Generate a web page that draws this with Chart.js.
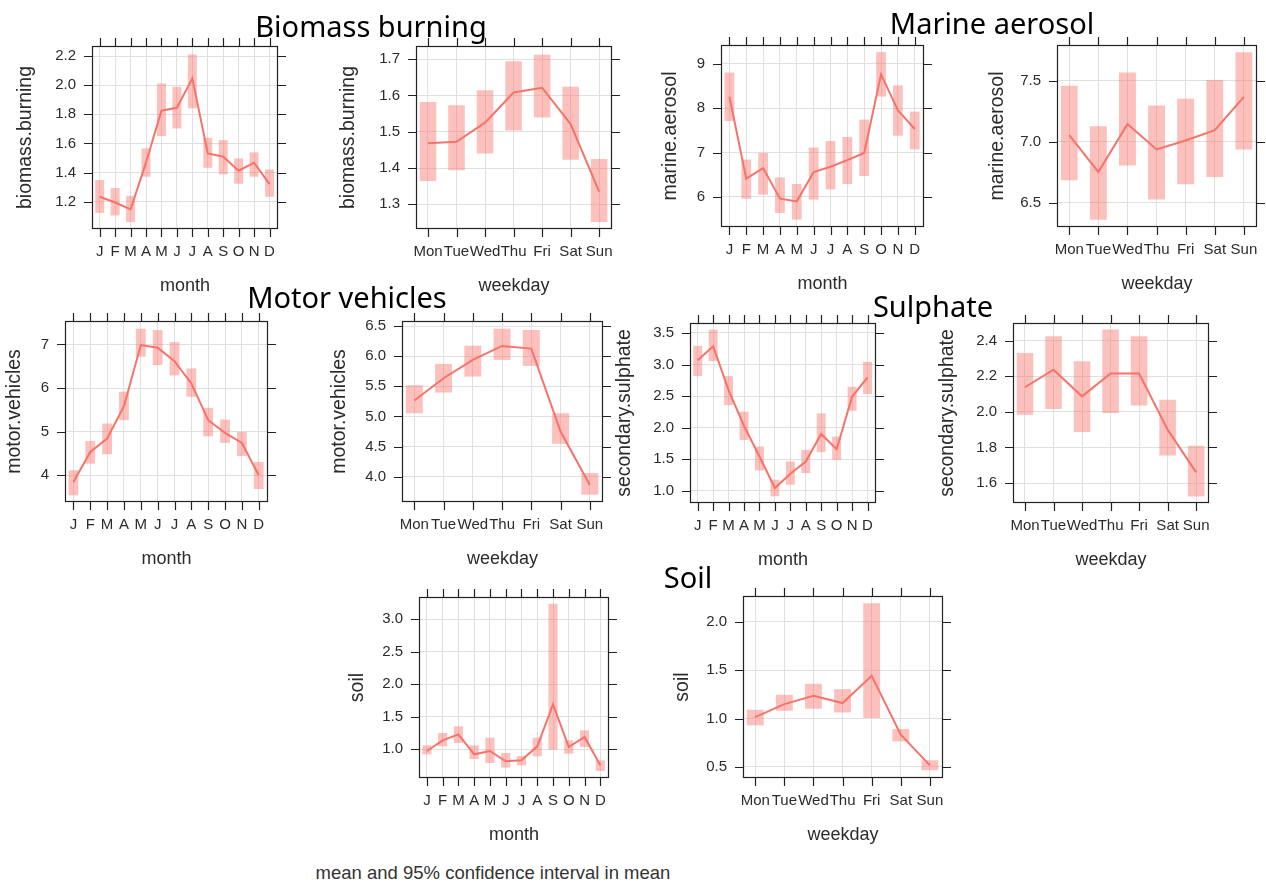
<!DOCTYPE html>
<html>
<head>
<meta charset="utf-8">
<script src="https://cdn.jsdelivr.net/npm/chart.js@4.4.0/dist/chart.umd.min.js"></script>
<style>
html, body { margin: 0; padding: 0; overflow: hidden; background: #fff; }
body { width: 1266px; height: 883px; position: relative; font-family: "Liberation Sans", Arial, sans-serif; }
canvas { position: absolute; }
.ttl { position: absolute; font-family: "Noto Sans", sans-serif; font-size: 29px; line-height: 29px; color: #000; white-space: nowrap; transform: translateX(-50%); z-index: 5; }
.note { position: absolute; font-size: 18.5px; line-height: 18px; color: #333; white-space: nowrap; transform: translateX(-50%); z-index: 5; }
</style>
</head>
<body>
<div class="ttl" style="left:371px;top:11px">Biomass burning</div>
<div class="ttl" style="left:992px;top:8px">Marine aerosol</div>
<div class="ttl" style="left:347px;top:282px">Motor vehicles</div>
<div class="ttl" style="left:933px;top:291px">Sulphate</div>
<div class="ttl" style="left:688px;top:562px">Soil</div>
<div class="note" style="left:493px;top:864px">mean and 95% confidence interval in mean</div>

<script>
var months = ['J', 'F', 'M', 'A', 'M', 'J', 'J', 'A', 'S', 'O', 'N', 'D'];
var weekdays = ['Mon', 'Tue', 'Wed', 'Thu', 'Fri', 'Sat', 'Sun'];

// biomass burning
var bbMonthMean = [1.234, 1.195, 1.147, 1.47, 1.825, 1.845, 2.047, 1.532, 1.509, 1.413, 1.468, 1.321];
var bbMonthLow = [1.124, 1.106, 1.06, 1.372, 1.651, 1.703, 1.841, 1.433, 1.388, 1.324, 1.372, 1.234];
var bbMonthHigh = [1.349, 1.294, 1.241, 1.566, 2.012, 1.989, 2.211, 1.639, 1.623, 1.497, 1.539, 1.422];
var bbMonthTicks = ['1.2', '1.4', '1.6', '1.8', '2.0', '2.2'];

var bbWeekMean = [1.468, 1.472, 1.525, 1.608, 1.621, 1.521, 1.335];
var bbWeekLow = [1.364, 1.394, 1.44, 1.503, 1.539, 1.423, 1.251];
var bbWeekHigh = [1.582, 1.573, 1.614, 1.694, 1.712, 1.624, 1.425];
var bbWeekTicks = ['1.3', '1.4', '1.5', '1.6', '1.7'];

// marine aerosol
var maMonthMean = [8.256, 6.41, 6.65, 5.96, 5.9, 6.56, 6.68, 6.83, 6.99, 8.76, 7.95, 7.53];
var maMonthLow = [7.71, 5.96, 6.05, 5.64, 5.49, 5.94, 6.17, 6.29, 6.47, 8.26, 7.38, 7.07];
var maMonthHigh = [8.8, 6.84, 6.99, 6.44, 6.29, 7.11, 7.26, 7.35, 7.74, 9.26, 8.51, 7.92];
var maMonthTicks = ['6', '7', '8', '9'];

var maWeekMean = [7.053, 6.752, 7.144, 6.936, 7.01, 7.095, 7.368];
var maWeekLow = [6.684, 6.36, 6.804, 6.525, 6.651, 6.711, 6.936];
var maWeekHigh = [7.459, 7.127, 7.568, 7.297, 7.352, 7.505, 7.733];
var maWeekTicks = ['6.5', '7.0', '7.5'];

// motor vehicles
var mvMonthMean = [3.847, 4.536, 4.842, 5.584, 6.985, 6.923, 6.617, 6.105, 5.263, 4.972, 4.742, 4.0];
var mvMonthLow = [3.541, 4.268, 4.482, 5.263, 6.717, 6.526, 6.288, 5.798, 4.895, 4.742, 4.444, 3.686];
var mvMonthHigh = [4.115, 4.788, 5.186, 5.913, 7.36, 7.329, 7.054, 6.449, 5.546, 5.278, 4.995, 4.306];
var mvMonthTicks = ['4', '5', '6', '7'];

var mvWeekMean = [5.264, 5.634, 5.937, 6.169, 6.125, 4.75, 3.862];
var mvWeekLow = [5.054, 5.396, 5.661, 5.937, 5.838, 4.546, 3.702];
var mvWeekHigh = [5.518, 5.871, 6.174, 6.456, 6.434, 5.054, 4.061];
var mvWeekTicks = ['4.0', '4.5', '5.0', '5.5', '6.0', '6.5'];

// secondary sulphate
var ssMonthMean = [3.068, 3.289, 2.595, 2.026, 1.542, 1.042, 1.268, 1.463, 1.9, 1.658, 2.489, 2.795];
var ssMonthLow = [2.816, 3.053, 2.358, 1.805, 1.321, 0.911, 1.095, 1.279, 1.611, 1.489, 2.268, 2.532];
var ssMonthHigh = [3.295, 3.553, 2.816, 2.253, 1.7, 1.174, 1.463, 1.647, 2.226, 1.858, 2.647, 3.042];
var ssMonthTicks = ['1.0', '1.5', '2.0', '2.5', '3.0', '3.5'];

var ssWeekMean = [2.138, 2.237, 2.087, 2.215, 2.215, 1.9, 1.66];
var ssWeekLow = [1.984, 2.016, 1.887, 1.993, 2.035, 1.755, 1.525];
var ssWeekHigh = [2.331, 2.424, 2.284, 2.462, 2.424, 2.068, 1.81];
var ssWeekTicks = ['1.6', '1.8', '2.0', '2.2', '2.4'];

// soil
var soilMonthMean = [0.974, 1.138, 1.23, 0.923, 0.974, 0.816, 0.831, 1.046, 1.69, 1.036, 1.189, 0.754];
var soilMonthLow = [0.923, 1.046, 1.097, 0.852, 0.79, 0.719, 0.754, 0.893, 0.995, 0.933, 1.036, 0.667];
var soilMonthHigh = [1.061, 1.251, 1.353, 1.061, 1.179, 0.944, 0.898, 1.179, 3.235, 1.138, 1.292, 0.831];
var soilMonthTicks = ['1.0', '1.5', '2.0', '2.5', '3.0'];

var soilWeekMean = [1.016, 1.15, 1.236, 1.161, 1.443, 0.834, 0.517];
var soilWeekLow = [0.93, 1.081, 1.102, 1.064, 1.006, 0.765, 0.466];
var soilWeekHigh = [1.092, 1.246, 1.36, 1.305, 2.193, 0.892, 0.569];
var soilWeekTicks = ['0.5', '1.0', '1.5', '2.0'];

// where each panel sits on the page: box = plot frame [left, top, right, bottom], titleX = centre of y title
var panels = [
  {box: [92, 46, 278, 229], titleX: 26, yMin: 1.013, yMax: 2.269, yTitle: 'biomass.burning', cats: months, mean: bbMonthMean, low: bbMonthLow, high: bbMonthHigh, ticks: bbMonthTicks},
  {box: [416, 46, 612, 229], titleX: 349, yMin: 1.232, yMax: 1.736, yTitle: 'biomass.burning', cats: weekdays, mean: bbWeekMean, low: bbWeekLow, high: bbWeekHigh, ticks: bbWeekTicks},
  {box: [721, 45, 924, 227], titleX: 671, yMin: 5.323, yMax: 9.42, yTitle: 'marine.aerosol', cats: months, mean: maMonthMean, low: maMonthLow, high: maMonthHigh, ticks: maMonthTicks},
  {box: [1057, 45, 1257, 227], titleX: 998, yMin: 6.3, yMax: 7.793, yTitle: 'marine.aerosol', cats: weekdays, mean: maWeekMean, low: maWeekLow, high: maWeekHigh, ticks: maWeekTicks},
  {box: [65, 321, 268, 502], titleX: 15, yMin: 3.388, yMax: 7.536, yTitle: 'motor.vehicles', cats: months, mean: mvMonthMean, low: mvMonthLow, high: mvMonthHigh, ticks: mvMonthTicks},
  {box: [402, 321, 603, 502], titleX: 340, yMin: 3.581, yMax: 6.583, yTitle: 'motor.vehicles', cats: weekdays, mean: mvWeekMean, low: mvWeekLow, high: mvWeekHigh, ticks: mvWeekTicks},
  {box: [690, 323, 876, 503], titleX: 625, yMin: 0.805, yMax: 3.658, yTitle: 'secondary.sulphate', cats: months, mean: ssMonthMean, low: ssMonthLow, high: ssMonthHigh, ticks: ssMonthTicks},
  {box: [1013, 323, 1209, 503], titleX: 948, yMin: 1.488, yMax: 2.499, yTitle: 'secondary.sulphate', cats: weekdays, mean: ssWeekMean, low: ssWeekLow, high: ssWeekHigh, ticks: ssWeekTicks},
  {box: [419, 597, 609, 778], titleX: 358, yMin: 0.56, yMax: 3.338, yTitle: 'soil', cats: months, mean: soilMonthMean, low: soilMonthLow, high: soilMonthHigh, ticks: soilMonthTicks},
  {box: [743, 596, 943, 778], titleX: 683, yMin: 0.386, yMax: 2.268, yTitle: 'soil', cats: weekdays, mean: soilWeekMean, low: soilWeekLow, high: soilWeekHigh, ticks: soilWeekTicks}
];

Chart.defaults.font.family = '"Liberation Sans", Arial, sans-serif';
Chart.defaults.color = '#2b2b2b';

var lineColor = '#F5736A';
var barColor = 'rgba(248, 118, 109, 0.45)';
var gridColor = '#e0e0e0';
var frameColor = '#222';
var tickLen = 8;

// lattice style box with ticks on all four sides
var framePlugin = {
  id: 'frame',
  afterDraw: function(chart) {
    var a = chart.chartArea;
    var ctx = chart.ctx;
    var xs = chart.scales.x;
    var ys = chart.scales.y;
    ctx.save();
    ctx.strokeStyle = frameColor;
    ctx.lineWidth = 1.2;
    ctx.strokeRect(a.left + 0.5, a.top + 0.5, a.right - a.left - 1, a.bottom - a.top - 1);
    ctx.beginPath();
    xs.ticks.forEach(function(t) {
      var px = Math.round(xs.getPixelForValue(t.value)) + 0.5;
      ctx.moveTo(px, a.top);
      ctx.lineTo(px, a.top - tickLen);
      ctx.moveTo(px, a.bottom);
      ctx.lineTo(px, a.bottom + tickLen);
    });
    ys.ticks.forEach(function(t) {
      var py = Math.round(ys.getPixelForValue(t.value)) + 0.5;
      ctx.moveTo(a.left, py);
      ctx.lineTo(a.left - tickLen, py);
      ctx.moveTo(a.right, py);
      ctx.lineTo(a.right + tickLen, py);
    });
    ctx.stroke();
    ctx.restore();
  }
};

function makePanel(p) {
  var padTop = 25, padRight = 20, xh = 68;
  var yw = Math.round(p.box[0] - p.titleX + 11.7);
  var w = yw + (p.box[2] - p.box[0]) + padRight;
  var h = padTop + (p.box[3] - p.box[1]) + xh;

  var cv = document.createElement('canvas');
  cv.width = w;
  cv.height = h;
  cv.style.width = w + 'px';
  cv.style.height = h + 'px';
  cv.style.left = (p.box[0] - yw) + 'px';
  cv.style.top = (p.box[1] - padTop) + 'px';
  document.body.appendChild(cv);

  var n = p.cats.length;
  var isMonth = n == 12;

  new Chart(cv.getContext('2d'), {
    type: 'bar',
    data: {
      datasets: [
        {
          type: 'line',
          data: p.mean.map(function(m, i) { return {x: i, y: m}; }),
          borderColor: lineColor,
          borderWidth: 2,
          pointRadius: 0,
          tension: 0,
          fill: false,
          order: 1
        },
        {
          type: 'bar',
          data: p.low.map(function(l, i) { return {x: i, y: [l, p.high[i]]}; }),
          backgroundColor: barColor,
          borderWidth: 0,
          categoryPercentage: 1,
          barPercentage: 0.58,
          order: 2
        }
      ]
    },
    options: {
      responsive: false,
      animation: false,
      layout: {padding: {top: padTop, right: padRight, left: 0, bottom: 0}},
      plugins: {legend: {display: false}, tooltip: {enabled: false}},
      scales: {
        x: {
          type: 'linear',
          offset: false,
          min: isMonth ? -0.5 : -0.42,
          max: isMonth ? n - 1 + 0.55 : n - 1 + 0.45,
          afterBuildTicks: function(s) {
            s.ticks = p.cats.map(function(c, i) { return {value: i}; });
          },
          afterFit: function(s) { s.height = xh; },
          ticks: {
            autoSkip: false,
            maxRotation: 0,
            padding: 14,
            font: {size: 15},
            callback: function(v) { return p.cats[v]; }
          },
          grid: {color: gridColor, drawTicks: false, offset: false},
          border: {display: false},
          title: {display: true, text: isMonth ? 'month' : 'weekday', font: {size: 18}, padding: 0}
        },
        y: {
          min: p.yMin,
          max: p.yMax,
          afterBuildTicks: function(s) {
            s.ticks = p.ticks.map(function(t) { return {value: parseFloat(t)}; });
          },
          afterFit: function(s) { s.width = yw; },
          ticks: {
            padding: 16,
            font: {size: 15},
            callback: function(v, i) { return p.ticks[i]; }
          },
          grid: {color: gridColor, drawTicks: false},
          border: {display: false},
          title: {display: true, text: p.yTitle, font: {size: 19.5}, padding: 0}
        }
      }
    },
    plugins: [framePlugin]
  });
}

panels.forEach(makePanel);
</script>
</body>
</html>
